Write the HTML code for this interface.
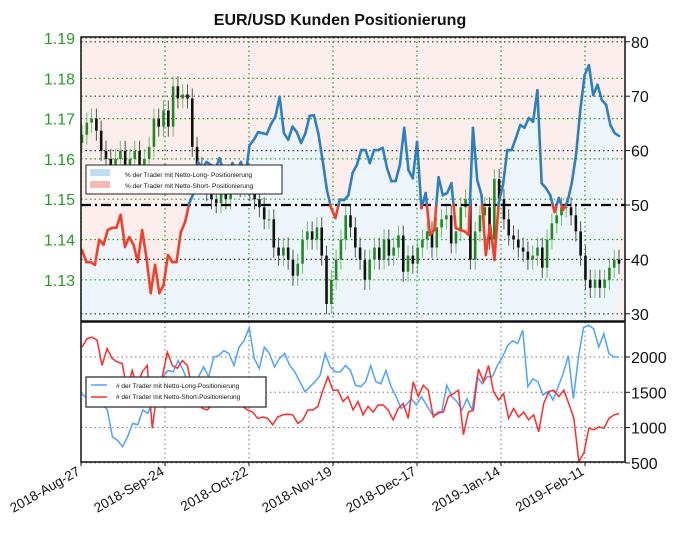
<!DOCTYPE html>
<html><head><meta charset="utf-8"><style>
body{margin:0;background:#fff;font-family:"Liberation Sans",sans-serif}
svg{display:block}
</style></head><body>
<svg id="c" width="680" height="538"></svg>
<script>
const pctLong=[41.7,39.5,39.5,39,43.6,42.7,45.4,45.8,45.8,48.2,42.3,44.1,42.7,39.5,45.4,40.3,33.8,39,33.8,35.3,40.8,39.5,39.5,45,46.9,50.4,52.2,57.9,56.8,57.9,57.4,56.4,58.6,56.1,55.5,57.7,56.4,57.9,54.9,61,62,63.4,63.2,63,64.9,66.2,69.9,63.2,62,64.4,63.4,61.4,63.2,66.4,66.5,63.2,58.3,52.8,49.4,47.6,51,50.9,51.8,55.9,57.4,60.1,60.1,57.7,60.1,60.1,60.5,56.8,54.4,54.4,57.4,64.2,56.4,54.9,61.6,49.4,52.2,44.5,45.4,55.1,51.8,52.2,54,45.8,45.4,45.2,44.5,64.2,54.6,51.8,40.8,46.3,39.9,50.4,53.7,60.1,60.1,62.3,64.7,64.2,66,65.3,71.1,54,53.1,51.8,48.7,51.3,49.1,50.6,54,59.2,67.5,73.9,75.7,70.2,72.1,69.3,68.4,64.7,63.2,62.7];
const closes=[1.166,1.169,1.170,1.167,1.162,1.160,1.158,1.160,1.162,1.157,1.160,1.162,1.158,1.160,1.163,1.170,1.168,1.172,1.168,1.178,1.175,1.176,1.175,1.163,1.158,1.155,1.152,1.150,1.149,1.152,1.150,1.154,1.155,1.153,1.155,1.152,1.150,1.148,1.145,1.145,1.138,1.136,1.138,1.135,1.131,1.134,1.140,1.142,1.140,1.143,1.136,1.124,1.130,1.135,1.140,1.146,1.143,1.138,1.135,1.130,1.135,1.138,1.135,1.140,1.136,1.138,1.141,1.132,1.136,1.134,1.138,1.140,1.142,1.138,1.143,1.145,1.146,1.139,1.142,1.148,1.150,1.135,1.142,1.146,1.148,1.140,1.155,1.150,1.145,1.141,1.140,1.138,1.137,1.135,1.136,1.138,1.133,1.140,1.144,1.146,1.148,1.148,1.146,1.142,1.136,1.130,1.128,1.130,1.128,1.130,1.133,1.135,1.134];
const longCount=[1480,1410,1480,1390,1340,1250,870,820,730,870,1060,1040,1250,1200,1390,1580,1720,1810,1790,1950,1810,1620,1530,1720,1860,1720,2000,2020,2090,2050,1880,2140,2230,2420,1980,1840,2140,2050,1860,1980,2050,1880,1790,1650,1510,1580,1650,1740,2050,1860,1790,1790,1880,1810,1600,1580,1650,1880,1650,1620,1810,1580,1440,1270,1320,1410,1320,1440,1320,1200,1180,1220,1600,1440,1370,1250,1410,1250,1720,1620,1720,1720,1880,2000,2160,2230,2190,2380,1580,1690,1650,1460,1510,1390,1580,1770,2020,1410,2000,2420,2450,2400,2140,2330,2050,2000,2000];
const shortCount=[2140,2260,2280,2240,1880,2120,1980,1930,1910,1530,1810,1580,1790,1880,990,1530,1720,2070,1880,1840,1950,1880,1530,1390,1270,1250,1340,1600,1460,1620,1580,1530,1300,1250,1220,1130,1150,1130,1040,1150,1180,1190,1180,1060,1110,1250,1250,1300,1530,1720,1530,1530,1370,1440,1250,1370,1180,1300,1220,1320,1320,1250,1110,1270,1340,1130,1650,1440,1600,1530,1150,1220,1220,1440,1480,1530,900,1220,1250,1830,1650,1880,1510,1390,1480,1130,1270,1150,1220,1110,1180,940,1340,1510,1530,1440,1530,1340,1130,520,640,990,970,1010,990,1130,1180,1200];
const rightTicksTop=[30,40,50,60,70,80];
const leftTicks=["1.13","1.14","1.15","1.16","1.17","1.18","1.19"];
const rightTicksBot=[500,1000,1500,2000];
const dateLabels=["2018-Aug-27","2018-Sep-24","2018-Oct-22","2018-Nov-19","2018-Dec-17","2019-Jan-14","2019-Feb-11"];

const NS="http://www.w3.org/2000/svg";
const svg=document.getElementById('c');
function mk(t,a,p){const e=document.createElementNS(NS,t);for(const k in a)e.setAttribute(k,a[k]);(p||svg).appendChild(e);return e;}
const L=81,R=625,T=37,B=321,BT=322,BB=462;
const yPct=v=>205-(v-50)*5.44;
const yPx=p=>38+(1.19-p)*4030;
const yCnt=v=>357+(2000-v)/500*35.3;
const xi=(i,n)=>82+i*(619-82)/(n-1);
const xDate=i=>L+i*84;

// title
let t=mk('text',{x:340,y:25,'text-anchor':'middle','font-size':16,'font-weight':'bold',fill:'#111'});t.textContent='EUR/USD Kunden Positionierung';


// top panel background
mk('rect',{x:L,y:T,width:R-L,height:B-T,fill:'#fdeeee'});
let fp='M'+xi(0,pctLong.length)+','+B;
pctLong.forEach((v,i)=>fp+=' L'+xi(i,pctLong.length)+','+yPct(v));
fp+=' L'+xi(pctLong.length-1,pctLong.length)+','+B+'Z';
let fill=mk('path',{d:fp,fill:'#eef5fa'});


// grids top
leftTicks.forEach(s=>{const y=yPx(+s);mk('line',{x1:L,x2:R,y1:y,y2:y,stroke:'#2a9a2a','stroke-width':1.2,'stroke-dasharray':'1.5 3'});});
rightTicksTop.forEach(v=>{if(v===50)return;const y=yPct(v);mk('line',{x1:L,x2:R,y1:y,y2:y,stroke:'#333','stroke-width':1.2,'stroke-dasharray':'1.5 3'});});
dateLabels.forEach((d,i)=>{const x=xDate(i);mk('line',{x1:x,x2:x,y1:T,y2:B,stroke:'#2a9a2a','stroke-width':1.2,'stroke-dasharray':'1.5 3'});});

// candles
const cg=mk('g',{});
closes.forEach((c,i)=>{
  const o=i?closes[i-1]:c-0.002;const x=xi(i,closes.length);
  const up=c>=o;const col=up?'#1f8a1f':'#111';
  const hi=Math.max(o,c)+0.0025,lo=Math.min(o,c)-0.0025;
  mk('line',{x1:x,x2:x,y1:yPx(hi),y2:yPx(lo),stroke:up?'#6fbf6f':'#555','stroke-width':1},cg);
  const y1=yPx(Math.max(o,c)),y2=yPx(Math.min(o,c));
  const r=mk('rect',{x:x-1.3,y:y1,width:2.6,height:Math.max(1,y2-y1),fill:col},cg);
  
});

// 50 line
mk('line',{x1:L,x2:R,y1:yPct(50),y2:yPct(50),stroke:'#000','stroke-width':2.2,'stroke-dasharray':'10 4 2 4'});

// pct line split by 50
const lg=mk('g',{});
for(let i=1;i<pctLong.length;i++){
  const a=pctLong[i-1],b=pctLong[i],xa=xi(i-1,pctLong.length),xb=xi(i,pctLong.length);
  const seg=(x1,v1,x2,v2)=>mk('line',{x1:x1,y1:yPct(v1),x2:x2,y2:yPct(v2),stroke:(v1+v2)/2>=50?'#2e7fc0':'#f0402a','stroke-width':2.6,'stroke-linecap':'round'},lg);
  if((a-50)*(b-50)<0){const f=(50-a)/(b-a);const xm=xa+f*(xb-xa);seg(xa,a,xm,50);seg(xm,50,xb,b);}else seg(xa,a,xb,b);
}

// top frame
mk('rect',{x:L,y:T,width:R-L,height:B-T,fill:'none',stroke:'#111','stroke-width':1.5});
leftTicks.forEach(s=>{const y=yPx(+s);let e=mk('text',{x:75,y:y+6,'text-anchor':'end','font-size':16,fill:'#2a9a2a'});e.textContent=s;
 });
rightTicksTop.forEach(v=>{const y=yPct(v);mk('line',{x1:R,x2:R+5,y1:y,y2:y,stroke:'#111'});let e=mk('text',{x:631,y:y+6,'font-size':16,fill:'#111'});e.textContent=v;
 });

// top legend
const tl=mk('g',{});
mk('rect',{x:86,y:165,width:196,height:29,fill:'#fff',stroke:'#222','stroke-width':1},tl);
mk('rect',{x:90,y:169,width:20,height:7,fill:'#bfdcf5'},tl);
mk('rect',{x:90,y:181,width:20,height:7,fill:'#f7b9b5'},tl);
t=mk('text',{x:125,y:177,'font-size':6.5,fill:'#111'},tl);t.textContent='% der Trader mit Netto-Long- Positionierung';
t=mk('text',{x:125,y:188,'font-size':6.5,fill:'#111'},tl);t.textContent='% der Trader mit Netto-Short- Positionierung';

// bottom panel
rightTicksBot.forEach(v=>{const y=yCnt(v);mk('line',{x1:L,x2:R,y1:y,y2:y,stroke:'#777','stroke-dasharray':'1.5 3'});mk('line',{x1:R,x2:R+5,y1:y,y2:y,stroke:'#111'});
 let e=mk('text',{x:631,y:y+6,'font-size':16,fill:'#111'});e.textContent=v;});
dateLabels.forEach((d,i)=>{const x=xDate(i);mk('line',{x1:x,x2:x,y1:BT,y2:BB,stroke:'#777','stroke-dasharray':'1.5 3'});
 mk('line',{x1:x,x2:x,y1:BB,y2:BB+4,stroke:'#111'});
 let e=mk('text',{x:x,y:BB+12,'text-anchor':'end','font-size':13.5,fill:'#111',transform:`rotate(-30 ${x} ${BB+12})`});e.textContent=d;
 });
function poly(arr,col,name){let d='';arr.forEach((v,i)=>d+=(i?' L':'M')+xi(i,arr.length)+','+yCnt(v));
 const p=mk('path',{d:d,fill:'none',stroke:col,'stroke-width':1.5});}
poly(longCount,'#4da3ff','long-count-line');
poly(shortCount,'#ff2a2a','short-count-line');
mk('rect',{x:L,y:BT,width:R-L,height:BB-BT,fill:'none',stroke:'#111','stroke-width':1.5});

const bl=mk('g',{});
mk('rect',{x:86,y:377,width:180,height:30,fill:'#fff',stroke:'#222','stroke-width':1.2},bl);
mk('line',{x1:91,x2:107,y1:385,y2:385,stroke:'#4da3ff','stroke-width':1.5},bl);
mk('line',{x1:91,x2:107,y1:397,y2:397,stroke:'#ff2a2a','stroke-width':1.5},bl);
t=mk('text',{x:116,y:388,'font-size':6.5,fill:'#111'},bl);t.textContent='# der Trader mit Netto-Long-Positionierung';
t=mk('text',{x:116,y:399,'font-size':6.5,fill:'#111'},bl);t.textContent='# der Trader mit Netto-Short-Positionierung';
</script>
</body></html>
